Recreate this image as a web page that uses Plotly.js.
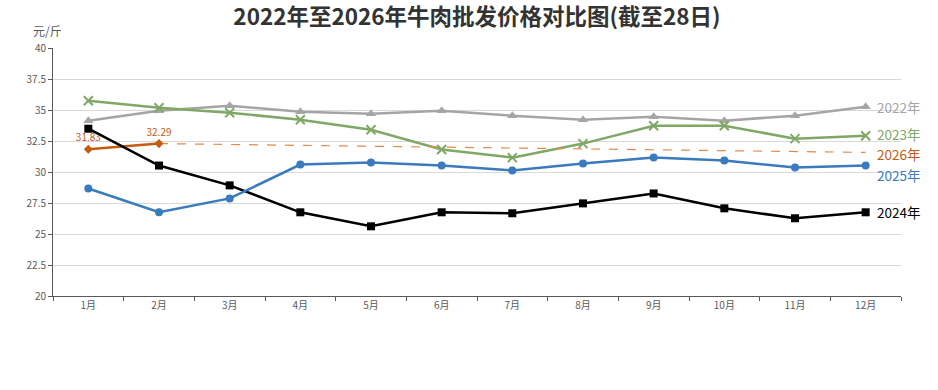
<!DOCTYPE html>
<html><head><meta charset="utf-8">
<script src="https://cdn.plot.ly/plotly-3.0.1.min.js"></script>
<style>html,body{margin:0;padding:0;background:#fff}#chart{width:938px;height:390px}</style>
</head><body><div id="chart"></div>
<script>
const months = ['1月','2月','3月','4月','5月','6月','7月','8月','9月','10月','11月','12月'];
const v2022 = [34.14,34.94,35.34,34.86,34.70,34.94,34.54,34.22,34.46,34.14,34.54,35.26];
const v2023 = [35.74,35.18,34.78,34.22,33.41,31.81,31.16,32.29,33.73,33.73,32.69,32.93];
const v2024 = [33.49,30.52,28.92,26.75,25.62,26.75,26.67,27.47,28.27,27.07,26.27,26.75];
const v2025 = [28.67,26.75,27.87,30.60,30.76,30.52,30.12,30.68,31.16,30.92,30.36,30.52];
const months2026 = ['1月','2月'];
const v2026 = [31.83,32.29];
const trendMonths2026 = ['2月','12月'];
const trend2026 = [32.29,31.58];
const seriesNames = ['2022年','2023年','2024年','2025年','2026年'];

const C22='#a5a5a5', C23='#7fa865', C24='#000000', C25='#3a7bbd', C26='#c55a11', C26d='#e8894a';
const font = "'Noto Sans CJK SC', 'Noto Sans', sans-serif";

const traces = [
  {x:months, y:v2022, name:seriesNames[0], mode:'lines+markers', line:{color:C22,width:2.5}, marker:{symbol:'triangle-up',size:9,color:C22}},
  {x:months, y:v2023, name:seriesNames[1], mode:'lines+markers', line:{color:C23,width:2.5}, marker:{symbol:'x-thin-open',size:9,color:C23,line:{color:C23,width:2}}},
  {x:trendMonths2026, y:trend2026, name:'2026年趋势', mode:'lines', line:{color:C26d,width:1.2,dash:'dash'}},
  {x:months2026, y:v2026, name:seriesNames[4], mode:'lines+markers+text', line:{color:C26,width:2.5}, marker:{symbol:'diamond',size:7,color:C26},
   text:v2026.map(v=>v.toFixed(2)), textposition:'top center', textfont:{color:C26,size:10,family:font}},
  {x:months, y:v2024, name:seriesNames[2], mode:'lines+markers', line:{color:C24,width:2.5}, marker:{symbol:'square',size:8,color:C24}},
  {x:months, y:v2025, name:seriesNames[3], mode:'lines+markers', line:{color:C25,width:2.5}, marker:{symbol:'circle',size:8,color:C25}}
];

function endLabel(txt, y, color, yshift){
  return {x:'12月', y:y, xref:'x', yref:'y', text:txt, showarrow:false, xanchor:'left', yanchor:'middle',
          xshift:9, yshift:yshift||0, font:{size:13.5,color:color,family:font}};
}

const layout = {
  width:938, height:390,
  margin:{l:53, r:37, t:48, b:94},
  paper_bgcolor:'#fff', plot_bgcolor:'#fff',
  showlegend:false,
  font:{family:font, color:'#595959'},
  title:{text:'<b>2022年至2026年牛肉批发价格对比图(截至28日)</b>', x:0.5, xanchor:'center', xref:'paper',
         y:1-17/390, yanchor:'middle', yref:'container', font:{size:22.5,color:'#333333',family:font}},
  xaxis:{type:'category', categoryorder:'array', categoryarray:months, tickson:'boundaries',
         ticks:'outside', ticklen:4, tickcolor:'#595959', showline:true, linecolor:'#595959', linewidth:1,
         showgrid:false, tickfont:{size:10,color:'#595959'}, range:[-0.5,11.5], fixedrange:true},
  yaxis:{range:[20,40], dtick:2.5, tick0:20, ticks:'outside', ticklen:4, tickcolor:'#595959',
         showline:true, linecolor:'#595959', linewidth:1, showgrid:true, gridcolor:'#d9d9d9', gridwidth:1,
         zeroline:false, tickfont:{size:10,color:'#595959'}},
  annotations:[
    {xref:'paper', yref:'paper', x:-0.006, y:(296-30)/248, text:'元/斤', showarrow:false, xanchor:'center', yanchor:'middle', font:{size:12,color:'#595959',family:font}},
    endLabel('2022年', v2022[11], C22, 0),
    endLabel('2023年', v2023[11], C23, 1.5),
    endLabel('2026年', trend2026[1], C26, -1.5),
    endLabel('2025年', v2025[11], C25, -9),
    endLabel('2024年', v2024[11], C24, 0)
  ]
};
Plotly.newPlot('chart', traces, layout, {displayModeBar:false, staticPlot:true});
</script></body></html>
